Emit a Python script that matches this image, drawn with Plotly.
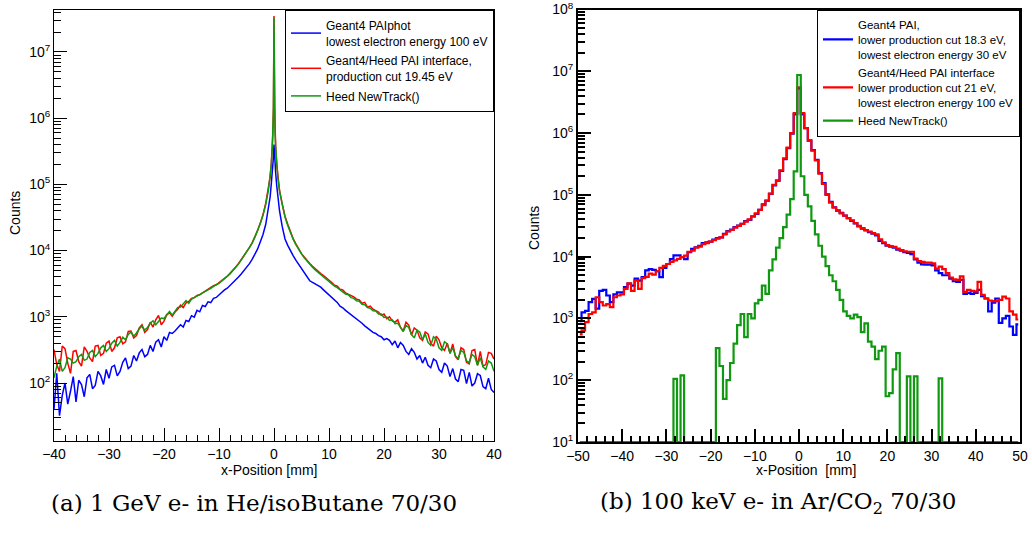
import plotly.graph_objects as go

# ---------------- data: panel (a) 1 GeV e- in He/isoButane ----------------
# x grid pieces (mm): left tail, core, right tail
XA_TAIL_L = [-40.0 + 0.5 * i for i in range(76)]          # -40 ... -2.5
XA_CORE = [-2, -1.5, -1, -0.7, -0.5, -0.3, -0.2, -0.1, 0,
           0.1, 0.2, 0.3, 0.5, 0.7, 1, 1.5, 2]
XA_TAIL_R = [2.5 + 0.5 * i for i in range(76)]            # 2.5 ... 40

BLUE_A_L = [40, 140, 32, 65, 100, 48, 75, 125, 52, 110,
            95, 62, 120, 135, 82, 92, 150, 128, 95, 160,
            118, 175, 185, 128, 150, 205, 240, 165, 180, 260,
            215, 285, 320, 250, 270, 370, 300, 415, 450, 350,
            500, 440, 580, 560, 610, 680, 760, 700, 880, 850,
            1040, 990, 1250, 1190, 1480, 1430, 1680, 1640, 1900, 1960,
            2150, 2280, 2550, 2700, 2950, 3250, 3550, 3950, 4400, 4900,
            5600, 6300, 7300, 8800, 10500, 13500]
BLUE_A_C = [17500, 25000, 42000, 65000, 100000, 150000, 200000, 260000, 400000,
            260000, 200000, 150000, 95000, 60000, 40000, 23000, 15000]
BLUE_A_R = [12000, 9800, 8300, 7100, 6200, 5400, 4700, 4000, 3500, 3300,
            3150, 2950, 2800, 2550, 2350, 2150, 1950, 1800, 1650, 1450,
            1370, 1250, 1160, 1080, 1020, 940, 880, 800, 730, 680,
            640, 580, 560, 520, 500, 450, 470, 440, 380, 430,
            340, 410, 370, 300, 270, 330, 290, 230, 260, 200,
            245, 185, 170, 230, 215, 160, 145, 200, 180, 125,
            165, 115, 105, 160, 155, 98, 145, 90, 100, 138,
            130, 88, 82, 118, 80, 72]

RED_A_L = [320, 190, 150, 360, 330, 200, 140, 300, 310, 210,
           180, 350, 300, 240, 210, 360, 370, 260, 280, 400,
           430, 300, 340, 480, 500, 390, 420, 600, 610, 480,
           520, 680, 760, 580, 640, 830, 700, 900, 1050, 760,
           860, 1080, 1150, 1020, 1180, 1300, 1500, 1380, 1620, 1700,
           1900, 1950, 2100, 2150, 2300, 2450, 2600, 2750, 2950, 3050,
           3250, 3500, 3800, 4100, 4500, 5000, 5600, 6300, 7200, 8300,
           9600, 11000, 13000, 16000, 20000, 26000]
RED_A_C = [35000, 52000, 85000, 130000, 200000, 380000, 600000, 1500000, 35000000,
           1500000, 600000, 380000, 200000, 130000, 82000, 50000, 33000]
RED_A_R = [25000, 19000, 15000, 12500, 10500, 9000, 8000, 7000, 6400, 5800,
           5300, 4900, 4500, 4200, 3900, 3600, 3300, 3000, 2900, 2600,
           2550, 2300, 2200, 2050, 2000, 1850, 1800, 1600, 1650, 1400,
           1450, 1300, 1250, 1180, 1050, 1100, 940, 1000, 870, 830,
           900, 690, 610, 830, 750, 530, 680, 630, 480, 440,
           590, 550, 400, 360, 510, 450, 340, 310, 400, 280,
           390, 250, 225, 340, 320, 205, 195, 310, 320, 185,
           300, 180, 190, 290, 280, 230]

GREEN_A_L = [120, 180, 230, 150, 170, 240, 230, 200, 210, 250,
             270, 220, 230, 290, 310, 250, 280, 340, 370, 300,
             330, 400, 440, 360, 410, 490, 450, 540, 590, 510,
             570, 660, 720, 630, 690, 800, 870, 760, 850, 960,
             940, 1080, 1200, 1060, 1220, 1380, 1400, 1560, 1760, 1600,
             1850, 1950, 2050, 2150, 2250, 2400, 2550, 2700, 2900, 3050,
             3200, 3450, 3750, 4050, 4450, 4950, 5500, 6200, 7100, 8200,
             9500, 10800, 12800, 15700, 19500, 25500]
GREEN_A_C = [34000, 50000, 83000, 125000, 195000, 370000, 580000, 1400000, 33000000,
             1400000, 580000, 370000, 195000, 125000, 80000, 48000, 32000]
GREEN_A_R = [24000, 18500, 14800, 12200, 10300, 8900, 7800, 6900, 6200, 5600,
             5100, 4700, 4300, 4000, 3700, 3400, 3150, 2900, 2750, 2550,
             2400, 2200, 2150, 1950, 1900, 1750, 1720, 1550, 1520, 1380,
             1350, 1230, 1220, 1100, 1100, 980, 990, 880, 900, 790,
             800, 680, 600, 740, 690, 540, 480, 630, 590, 450,
             550, 410, 370, 500, 460, 340, 310, 420, 390, 280,
             345, 255, 235, 310, 290, 215, 205, 270, 250, 185,
             240, 175, 160, 215, 200, 150]

# ---------------- data: panel (b) 100 keV e- in Ar/CO2 (125 bins, 0.8 mm) ----------------
XB = [round(-49.6 + 0.8 * k, 1) for k in range(125)]

BLUE_B = [900, 1250, 1330, 1830, 2070, 1440, 2800, 2900, 2350, 1830,
          2450, 2650, 2650, 3200, 3650, 3400, 4400, 4100, 4650, 6000,
          6300, 6100, 5800, 4650, 6600, 7600, 9100, 10500, 10500, 9800,
          9100, 11800, 13400, 14200, 15000, 16500, 17000, 17500, 18800, 20000,
          20500, 23400, 25800, 27300, 30000, 31800, 33900, 37500, 39500, 44600,
          49000, 57000, 70000, 81000, 104000, 142000, 170000, 245000, 380000, 570000,
          980000, 2000000, 5300000, 2000000, 1200000, 760000, 530000, 370000, 225000, 155000,
          102000, 77000, 63000, 56000, 51000, 46000, 42000, 38000, 34500, 31000,
          28500, 26500, 25000, 23500, 22000, 18000, 16500, 15000, 14500, 14000,
          13000, 12500, 11800, 11500, 11000, 9000, 8000, 7500, 7400, 7400,
          7200, 6000, 5400, 5000, 5000, 4400, 4000, 3900, 4200, 2500,
          2600, 2500, 2600, 2900, 2300, 2100, 1300, 1800, 2100, 850,
          1000, 1100, 740, 540, 800]
RED_B = [550, 640, 870, 1180, 1250, 2200, 1830, 1620, 1700, 1520,
         2200, 2350, 2450, 3000, 3700, 2800, 4100, 3000, 4500, 4700,
         5300, 5100, 5800, 6600, 7100, 7600, 8200, 8700, 9200, 9800,
         10400, 12000, 12500, 14000, 14500, 16000, 16500, 17500, 18500, 19500,
         20500, 23000, 25500, 27000, 29500, 31500, 34000, 37000, 40000, 45000,
         50000, 57000, 68000, 80000, 105000, 145000, 170000, 250000, 390000, 580000,
         1000000, 2100000, 5500000, 2100000, 1200000, 750000, 520000, 360000, 220000, 150000,
         100000, 75000, 62000, 55000, 50000, 46000, 42000, 38500, 35000, 31500,
         29000, 27000, 25500, 24000, 23000, 19000, 17000, 15400, 14800, 14400,
         13500, 12800, 12200, 12000, 12000, 9300, 8500, 8200, 8000, 8000,
         7800, 6400, 6900, 6300, 5400, 4600, 4300, 4200, 4800, 2700,
         2900, 2800, 2750, 3900, 2400, 2100, 1950, 1900, 1900, 2000,
         2250, 2100, 1300, 1150, 960]
GREEN_B = [0, 0, 0, 0, 0, 0, 0, 0, 0, 0,
           0, 0, 0, 0, 0, 0, 0, 0, 0, 0,
           0, 0, 0, 0, 0, 0, 0, 105, 0, 120,
           0, 0, 0, 0, 0, 0, 0, 0, 0, 330,
           170, 50, 100, 190, 390, 780, 1180, 500, 1180, 1000,
           1750, 2000, 3400, 2500, 6000, 9000, 14000, 20000, 30000, 48000,
           85000, 240000, 8700000, 200000, 100000, 65000, 38000, 23000, 15000, 10000,
           7000, 5000, 4000, 2900, 2000, 1300, 1100, 1000, 1150, 1050,
           600, 830, 420, 350, 220, 300, 350, 55, 62, 150,
           275, 0, 0, 115, 0, 115, 0, 0, 0, 0,
           0, 0, 107, 0, 0, 0, 0, 0, 0, 0,
           0, 0, 0, 0, 0, 0, 0, 0, 0, 0,
           0, 0, 0, 0, 0]

NAMES_A = ["Geant4 PAIphot<br>lowest electron energy 100 eV",
           "Geant4/Heed PAI interface,<br>production cut 19.45 eV",
           "Heed NewTrack()"]
NAMES_B = ["Geant4 PAI,<br>lower production cut 18.3 eV,<br>lowest electron energy 30 eV",
           "Geant4/Heed PAI interface<br>lower production cut 21 eV,<br>lowest electron energy 100 eV",
           "Heed NewTrack()"]
COLORS = ["#0000ff", "#ff0000", "#109910"]
Y_TICKS = [10 ** e for e in range(1, 9)]
Y_TICKTEXT = ["10<sup>%d</sup>" % e for e in range(1, 9)]

YB_MIN_LOG = 1.0       # axis minimum of panel (b): empty bins are drawn on it
YB_FLOOR = 10 ** YB_MIN_LOG

# ---------------- figure ----------------
W, H = 1032, 535
FONT = "Liberation Sans, Arial, Helvetica, sans-serif"
SERIF = "DejaVu Serif, serif"

def px(x):
    return x / W

def py(y):
    return 1 - y / H

XA = XA_TAIL_L + XA_CORE + XA_TAIL_R
series_a = [BLUE_A_L + BLUE_A_C + BLUE_A_R,
            RED_A_L + RED_A_C + RED_A_R,
            GREEN_A_L + GREEN_A_C + GREEN_A_R]
series_b = [BLUE_B, RED_B, GREEN_B]

fig = go.Figure()
for i, (ys, nm) in enumerate(zip(series_a, NAMES_A)):
    fig.add_trace(go.Scatter(x=XA, y=ys, mode="lines", name=nm,
                             line=dict(color=COLORS[i], width=1.5),
                             xaxis="x", yaxis="y", legend="legend",
                             legendgroup="a%d" % i))
for i, (ys, nm) in enumerate(zip(series_b, NAMES_B)):
    yplot = [v if v > 0 else YB_FLOOR for v in ys]
    fig.add_trace(go.Scatter(x=XB, y=yplot, mode="lines", name=nm,
                             line=dict(color=COLORS[i], width=2.2, shape="hvh"),
                             xaxis="x2", yaxis="y2", legend="legend2",
                             legendgroup="b%d" % i))

minor_log = [m * 10 ** e for e in range(1, 8) for m in range(2, 10)]

def xaxis_cfg(dom, rng, lw, anchor):
    return dict(domain=dom, range=rng, dtick=10, tick0=0, anchor=anchor,
                automargin=False, ticklabeloverflow="allow",
                ticks="inside", ticklen=13, tickwidth=lw, tickcolor="black",
                minor=dict(dtick=2, tick0=0, ticks="inside", ticklen=6,
                           tickwidth=lw, tickcolor="black"),
                showline=True, linecolor="black", linewidth=lw, mirror=True,
                showgrid=False, zeroline=False,
                tickfont=dict(family=FONT, size=14, color="black"))

def yaxis_cfg(dom, rng, lw, anchor):
    return dict(domain=dom, range=rng, type="log", anchor=anchor,
                automargin=False, ticklabeloverflow="allow",
                tickvals=Y_TICKS, ticktext=Y_TICKTEXT,
                ticks="inside", ticklen=13, tickwidth=lw, tickcolor="black",
                minor=dict(tickvals=minor_log, ticks="inside", ticklen=7,
                           tickwidth=lw, tickcolor="black"),
                showline=True, linecolor="black", linewidth=lw, mirror=True,
                showgrid=False, zeroline=False,
                tickfont=dict(family=FONT, size=14, color="black"))

def legend_cfg(x, y, gap, size):
    return dict(bgcolor="white", bordercolor="black", borderwidth=1,
                font=dict(family=FONT, size=size, color="black"),
                xanchor="right", yanchor="top", tracegroupgap=gap,
                itemwidth=30, x=x, y=y, xref="paper", yref="paper")

def note(text, x, y, size=14, family=FONT, angle=0):
    return dict(text=text, x=px(x), y=py(y), xref="paper", yref="paper",
                xanchor="center", yanchor="middle", textangle=angle,
                showarrow=False, font=dict(family=family, size=size, color="black"))

fig.update_layout(
    width=W, height=H, autosize=False,
    margin=dict(l=0, r=0, t=0, b=0, autoexpand=False),
    paper_bgcolor="white", plot_bgcolor="white",
    showlegend=True,
    xaxis=xaxis_cfg([px(54), px(494)], [-40, 40], 1, "y"),
    yaxis=yaxis_cfg([py(441), py(10)], [1.124, 7.634], 1, "x"),
    xaxis2=xaxis_cfg([px(578), px(1020)], [-50, 50], 2, "y2"),
    yaxis2=yaxis_cfg([py(442), py(9.5)], [YB_MIN_LOG, 8], 2, "x2"),
    legend=legend_cfg(px(494), py(10), 1, 12),
    legend2=legend_cfg(px(1020), py(9.5), 0, 11.5),
    annotations=[
        note("Counts", 15, 213, angle=-90),
        note("Counts", 534, 228, angle=-90),
        note("x-Position [mm]", 269, 470),
        note("x-Position\u00a0 [mm]", 806, 470),
        note("(a) 1 GeV e- in He/isoButane 70/30", 254, 503, size=23, family=SERIF),
        note("(b) 100 keV e- in Ar/CO<sub>2</sub> 70/30", 778, 503, size=23, family=SERIF),
    ],
)

# the page's default 8 px body margin is removed so the figure fills the window
fig.write_html("out.html", config={"displayModeBar": False},
               post_script="document.body.style.margin = '0px';")
